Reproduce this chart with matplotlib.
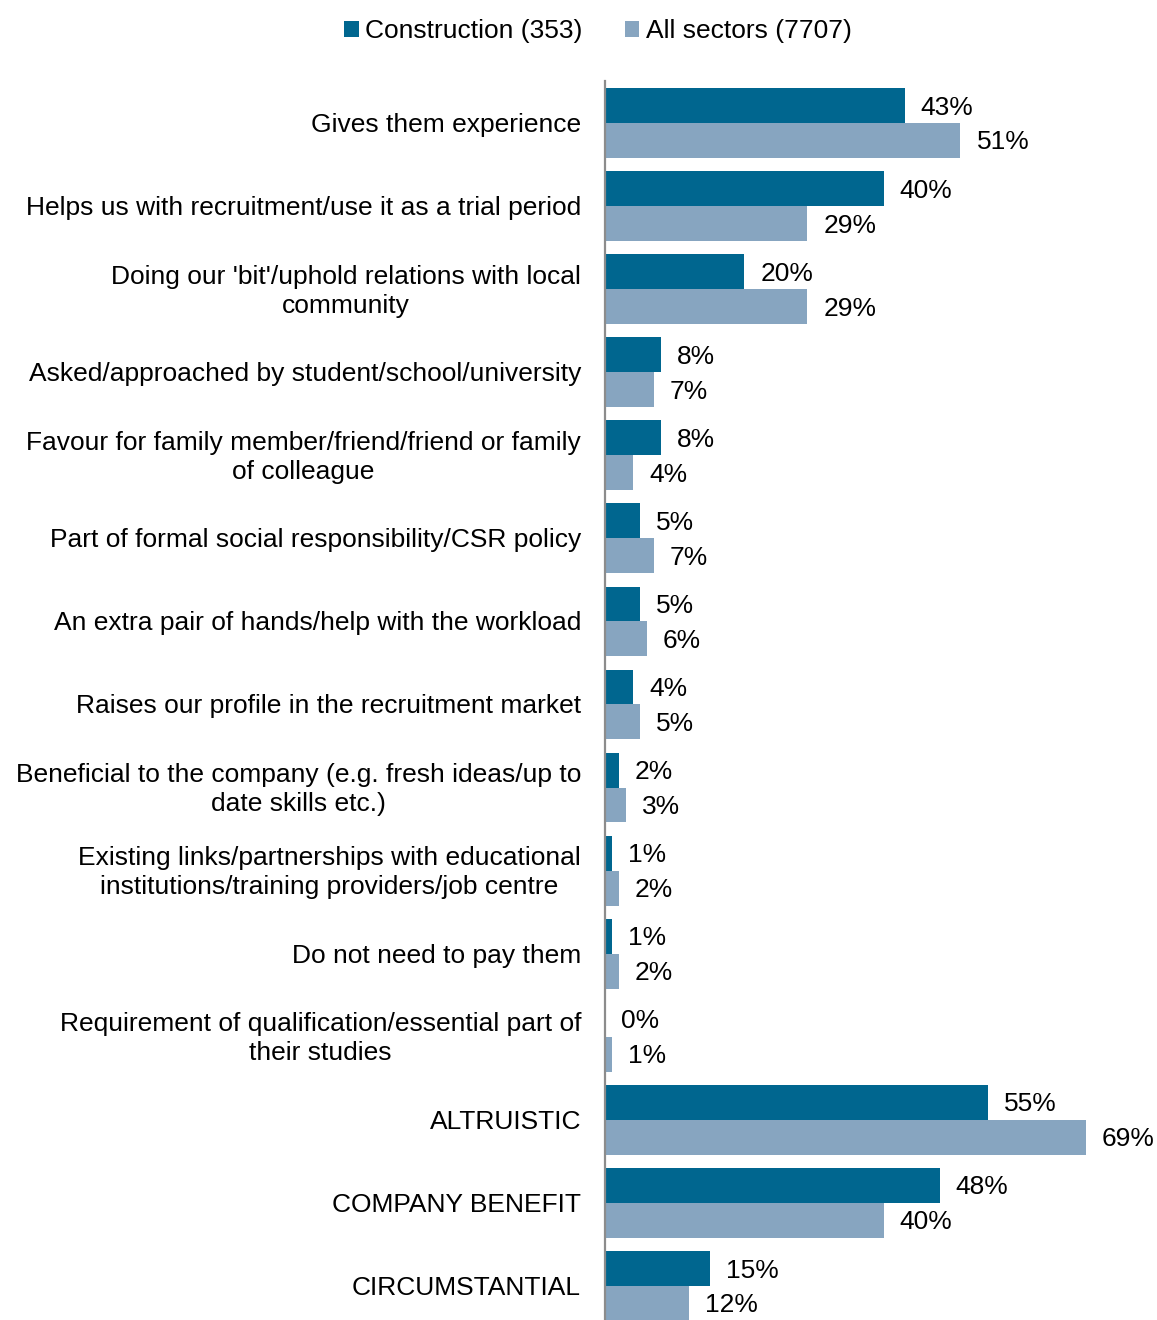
import numpy as np
import matplotlib
matplotlib.use("Agg")
import matplotlib.pyplot as plt

plt.rcParams['font.family'] = ['Liberation Sans', 'DejaVu Sans']

# reasons for offering work placements, % of employers
categories = [
    "Gives them experience",
    "Helps us with recruitment/use it as a trial period",
    "Doing our 'bit'/uphold relations with local\ncommunity",
    "Asked/approached by student/school/university",
    "Favour for family member/friend/friend or family\nof colleague",
    "Part of formal social responsibility/CSR policy",
    "An extra pair of hands/help with the workload",
    "Raises our profile in the recruitment market",
    "Beneficial to the company (e.g. fresh ideas/up to\ndate skills etc.)",
    "Existing links/partnerships with educational\ninstitutions/training providers/job centre",
    "Do not need to pay them",
    "Requirement of qualification/essential part of\ntheir studies",
    "ALTRUISTIC",
    "COMPANY BENEFIT",
    "CIRCUMSTANTIAL",
]
construction = [43, 40, 20, 8, 8, 5, 5, 4, 2, 1, 1, 0, 55, 48, 15]
all_sectors = [51, 29, 29, 7, 4, 7, 6, 5, 3, 2, 2, 1, 69, 40, 12]
series_names = ["Construction (353)", "All sectors (7707)"]

dark = "#00668f"
light = "#87a5c0"
fs = 19

W, H = 1157, 1320
fig = plt.figure(figsize=(W / 100, H / 100), dpi=100)
ax = fig.add_axes([605 / W, 1 - 1327.5 / H, 1 - 605 / W, 1246 / H])

y = np.arange(len(categories))
h = 0.42
b1 = ax.barh(y - h / 2, construction, height=h, color=dark, label=series_names[0])
b2 = ax.barh(y + h / 2, all_sectors, height=h, color=light, label=series_names[1])

ax.set_ylim(len(categories) - 0.5, -0.5)
ax.set_xlim(0, (W - 605) / 6.97)

# value labels just past the end of each bar
for bars, vals in ((b1, construction), (b2, all_sectors)):
    for bar, v in zip(bars, vals):
        ax.annotate(f"{v}%", (v, bar.get_y() + bar.get_height() / 2),
                    xytext=(16, -2), textcoords="offset pixels",
                    ha="left", va="center", fontsize=fs)

# category names, right-aligned against the axis, wrapped lines centred
ax.set_yticks([])
ax.set_xticks([])
for i, cat in enumerate(categories):
    ax.annotate(cat, (0, i), xytext=(-24, -2), textcoords="offset pixels",
                ha="right", va="center", multialignment="center",
                fontsize=fs, annotation_clip=False, linespacing=1.27)

for s in ("top", "right", "bottom"):
    ax.spines[s].set_visible(False)
ax.spines["left"].set_color("#8c8c8c")
ax.spines["left"].set_linewidth(1.6)

fig.legend(handles=[b1, b2], loc="center", bbox_to_anchor=(598 / W, 1 - 31 / H),
           ncol=2, frameon=False, fontsize=fs, handlelength=0.55, handleheight=0.55,
           handletextpad=0.25, columnspacing=1.6)

fig.savefig("out.png", dpi=100)
